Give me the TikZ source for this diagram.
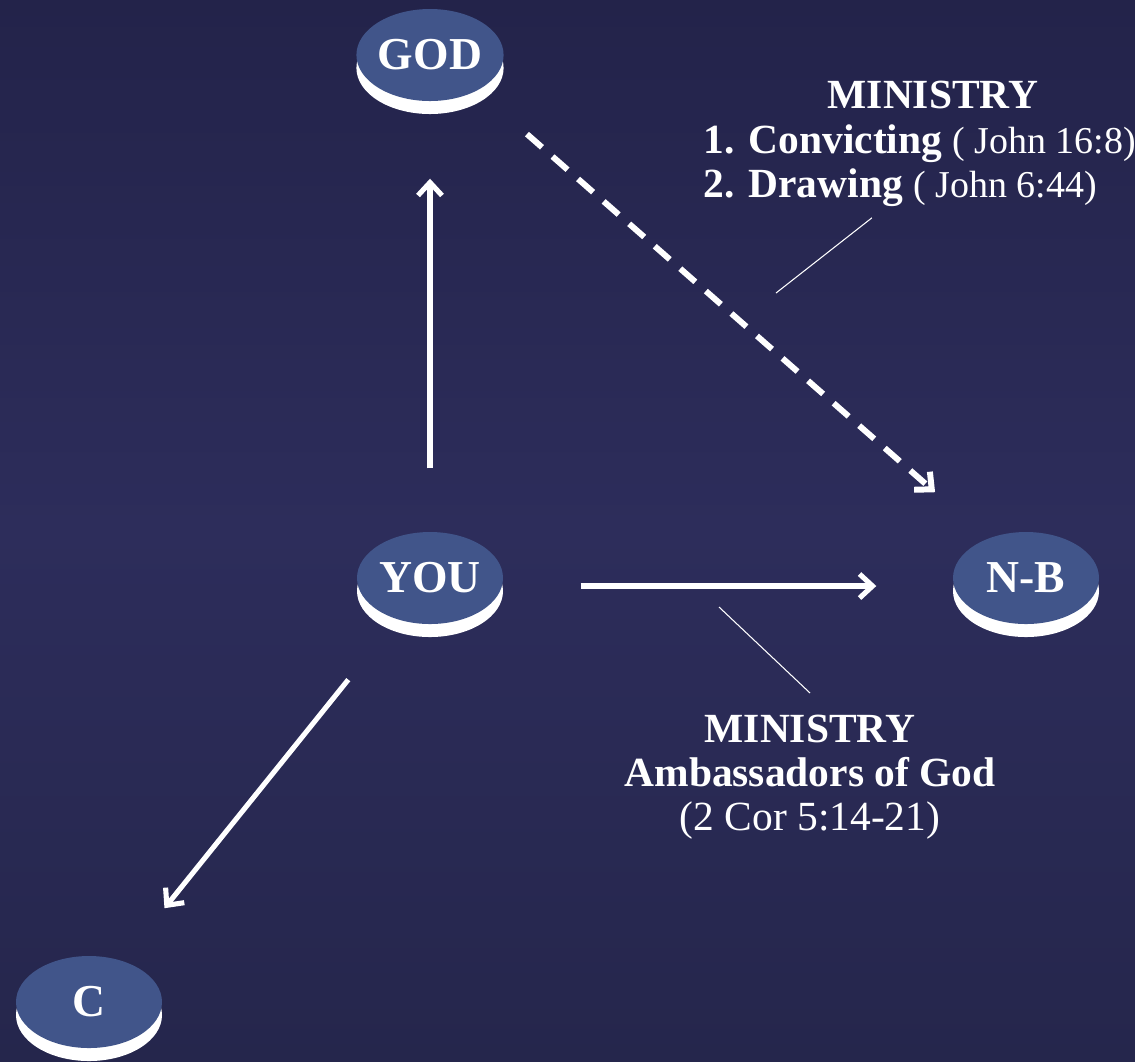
\documentclass[tikz,border=0pt]{standalone}
\usepackage{fontspec}
\setmainfont{Liberation Serif}
\usetikzlibrary{arrows.meta, positioning, shapes.geometric, shadows}

\definecolor{bgtop}{HTML}{23234A}
\definecolor{bgmid}{HTML}{2D2D5B}
\definecolor{bgbot}{HTML}{25264C}
\definecolor{discblue}{HTML}{41558A}

\newcommand{\refsize}{\fontsize{10.8}{12.5}\selectfont}

\begin{document}
\begin{tikzpicture}[
		node distance=1cm,
		on grid,
		% Define styles
		disc/.style={ellipse, minimum width=1.46cm, minimum height=0.92cm, inner sep=0pt, fill=discblue, text=white, font=\fontsize{13}{15}\selectfont\bfseries, general shadow={fill=white, shadow xshift=0cm, shadow yshift=-0.13cm}},
		arrow/.style={white, line width=1.45pt, -{Straight Barb[length=0.13cm, width=0.24cm]}},
		dashedarrow/.style={arrow, line width=1.7pt, dash pattern=on 0.2cm off 0.14cm},
		pointer/.style={white, line width=0.3pt},
		caption/.style={text=white, font=\fontsize{11.8}{12.5}\selectfont, inner sep=0pt}
		]
		
		% Background
		\useasboundingbox (0,0) rectangle (11.35,-10.61);
		\shade [top color=bgtop, bottom color=bgbot, middle color=bgmid] (0,0) rectangle (11.35,-10.61);
		
		% Discs
		\node (you) [disc] at (4.30,-5.78) {YOU};
		\node (god) [disc, above=5.23cm of you] {GOD};
		\node (nb) [disc, right=5.96cm of you] {N-B};
		\node (c) [disc, below left=4.24cm and 3.41cm of you] {C};
		
		% Ministry labels
		\node (godmin) [caption, font=\fontsize{11.8}{12.5}\selectfont\bfseries, anchor=base] at (9.33,-1.08) {MINISTRY};
		\node (minlist) [caption, align=left, anchor=base west] at (7.03,-1.97) {\textbf{1. Convicting} {\refsize ( John 16:8)}\\\textbf{2. Drawing} {\refsize ( John 6:44)}};
		\node (youmin) [caption, align=center, anchor=base] at (8.10,-8.30) {\textbf{MINISTRY}\\\textbf{Ambassadors of God}\\(2 Cor 5:14-21)};
		
		% Draw arrows
		\draw [arrow, shorten <=0.63cm, shorten >=0.77cm] (you) -- (god);
		\draw [arrow, shorten <=0.77cm, shorten >=0.76cm] ([yshift=-0.08cm]you.east) -- ([yshift=-0.08cm]nb.west);
		\draw [arrow, shorten <=0.77cm, shorten >=0.67cm] (you) -- (c);
		\draw [dashedarrow, shorten <=1.29cm, shorten >=1.21cm] ([yshift=0.06cm]god.center) -- ([yshift=0.06cm]nb.center);
		
		% Pointer lines
		\coordinate (ptr1) at (7.76,-2.93);
		\coordinate (ptr2) at (7.19,-6.07);
		\draw [pointer] (ptr1) -- ([xshift=-0.48cm, yshift=-0.11cm]minlist.south);
		\draw [pointer] ([yshift=0.21cm]youmin.north) -- (ptr2);
		
	\end{tikzpicture}
\end{document}
